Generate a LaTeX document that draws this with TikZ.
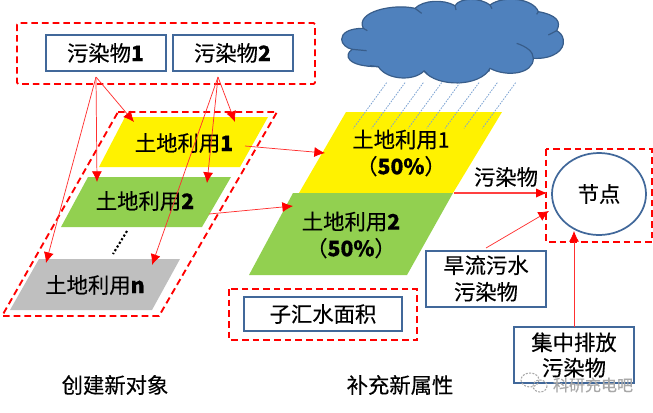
\documentclass[tikz,border=0pt]{standalone}
\usepackage{fontspec}
\usetikzlibrary{arrows.meta,shapes.geometric}
\setmainfont[FakeBold=0.35]{Noto Sans CJK SC}
\definecolor{boxblue}{HTML}{41689A}
\definecolor{cloudfill}{HTML}{4F81BD}
\definecolor{cloudline}{HTML}{385D8A}
\definecolor{rainblue}{HTML}{7DA3D3}
\definecolor{landgreen}{HTML}{92D050}
\definecolor{landgray}{HTML}{BFBFBF}
\definecolor{wm}{HTML}{A8A8A8}
\definecolor{linkred}{HTML}{FF3030}
\tikzset{
  every node/.style={font=\fontsize{16pt}{20pt}\selectfont,inner sep=0pt,align=center},
  redbox/.style={draw=red,line width=1.4pt,dash pattern=on 5pt off 3pt},
  bluebox/.style={draw=boxblue,line width=1.5pt,fill=white,rectangle},
  link/.style={draw=linkred,line width=0.55pt,-{Latex[length=8pt,width=7.5pt,fill=red,color=red]}},
  rain/.style={draw=rainblue,line width=0.6pt,dash pattern=on 1.2pt off 0.9pt},
}
\begin{document}
\begin{tikzpicture}[x=0.75pt,y=-0.75pt]
\useasboundingbox (0,0) rectangle (653,412);
% dashed groups
\draw[redbox,rounded corners=1pt] (17,23) rectangle (315,84);
\draw[redbox] (118,112) -- (277,112) -- (159,316) -- (2,316) -- cycle;
\draw[redbox] (229,289) rectangle (417,340);
\draw[redbox] (546,149) rectangle (652,242);
% cloud
\begin{scope}[shift={(320,0)},x=0.25pt,y=-0.25pt]
\draw[fill=cloudfill,draw=cloudline,line width=0.9pt]
 (130,85) .. controls (85,85) and (65,100) .. (65,118)
 .. controls (65,132) and (80,145) .. (97,148)
 .. controls (70,165) and (80,200) .. (175,200)
 .. controls (200,240) and (280,245) .. (312,213)
 .. controls (350,262) and (480,262) .. (510,205)
 .. controls (560,232) and (640,222) .. (640,175)
 .. controls (700,178) and (735,150) .. (730,120)
 .. controls (728,105) and (720,98) .. (710,92)
 .. controls (725,65) and (710,45) .. (655,35)
 .. controls (640,-5) and (550,-15) .. (510,15)
 .. controls (480,-8) and (420,-8) .. (405,17)
 .. controls (370,-3) and (310,0) .. (285,25)
 .. controls (220,10) and (105,35) .. (130,85) -- cycle;
\draw[draw=cloudline,line width=0.9pt]
 (130,85) -- (142,92)
 (97,148) -- (140,152)
 (175,200) -- (150,197)
 (285,25) -- (305,40)
 (405,17) -- (408,30)
 (510,15) -- (516,26)
 (655,35) -- (650,43)
 (710,92) -- (685,105)
 (640,175) .. controls (640,155) and (620,140) .. (590,130)
 (510,205) -- (506,215)
 (312,213) -- (322,222);
\end{scope}
% parallelograms
\fill[yellow] (125,117) -- (268,117) -- (240,167) -- (99,167) -- cycle;
\fill[landgreen] (88,177) -- (231,177) -- (202,227) -- (61,227) -- cycle;
\fill[landgray] (39,259) -- (180,259) -- (152,310) -- (10,310) -- cycle;
\fill[yellow] (346,112) -- (502,112) -- (453,193) -- (299,193) -- cycle;
\fill[landgreen] (293,193) -- (453,193) -- (407,275) -- (249,275) -- cycle;
\draw[line width=1.6pt,dash pattern=on 1.6pt off 1.6pt] (127,231) -- (113,254);
% rain
\begin{scope}[shift={(320,0)},x=0.25pt,y=-0.25pt]
\foreach \t/\b in {200/100,255/155,310/210,365/265,420/320,477/375,532/432,587/487}
  \draw[rain] (\t,248) -- (\b,385);
\end{scope}
% text on land
\node (l1) at (184,143) {土地利用\textbf{1}};
\node (l2) at (145,201) {土地利用\textbf{2}};
\node (ln) at (95,285) {土地利用\textbf{n}};
\node (b1) at (401,153) {土地利用1\\（\textbf{50\%}）};
\node (b2) at (351,235) {土地利用\textbf{2}\\（\textbf{50\%}）};
% boxes
\node[bluebox,minimum width=90pt,minimum height=26.5pt] (p1) at (105.5,53) {污染物\textbf{1}};
\node[bluebox,minimum width=90pt,minimum height=26.5pt] (p2) at (232.5,53) {污染物\textbf{2}};
\node[bluebox,minimum width=119pt,minimum height=26pt] (sub) at (323,314) {子汇水面积};
\node[bluebox,minimum width=90.5pt,minimum height=42pt] (dry) at (486,278.5) {旱流污水\\污染物};
\node[bluebox,minimum width=90.5pt,minimum height=42pt,font=\fontsize{16pt}{19pt}\selectfont] (pt) at (574,355) {集中排放\\污染物};
\node[draw=boxblue,line width=1.3pt,ellipse,minimum width=70.5pt,minimum height=61.5pt] (nd) at (599,194) {节点};
\node (pol) at (506,177) {污染物};
\node (t1) at (115,385) {创建新对象};
\node (t2) at (400,385) {补充新属性};
% connector ends
\coordinate (s1) at (96,77);
\coordinate (s2) at (218,77);
\coordinate (e11) at (134,122);
\coordinate (e12) at (97,182);
\coordinate (e13) at (46,263);
\coordinate (e21) at (235,122);
\coordinate (e22) at (207,183);
\coordinate (e23) at (152,265);
\coordinate (f1) at (245,146);
\coordinate (g1) at (325,153);
\coordinate (f2) at (209,214);
\coordinate (g2) at (293,206);
\coordinate (hs) at (454,193);
\coordinate (he) at (546,193);
\coordinate (f4) at (486,248);
\coordinate (g4) at (549,211);
\coordinate (f5) at (574,327);
\coordinate (g5) at (574,231);
\foreach \a/\b in {s1/e11,s1/e12,s1/e13,s2/e21,s2/e22,s2/e23,f1/g1,f2/g2,f4/g4,f5/g5}
  \draw[link] (\a) -- (\b);
\draw[red!75!white,line width=0.8pt] (hs) -- (he);
\fill[red] (he) -- ++(-10,-4.5) -- ++(0,9) -- cycle;
% watermark
\node[text=wm,font=\fontsize{12pt}{14pt}\selectfont] (wmt) at (593,385) {科研充电吧};
\draw[wm,line width=0.8pt,dash pattern=on 1.5pt off 1pt] (530,380) ellipse [x radius=9,y radius=7];
\draw[wm,line width=0.8pt,dash pattern=on 1.5pt off 1pt] (540,386) ellipse [x radius=7,y radius=6];
\end{tikzpicture}
\end{document}
